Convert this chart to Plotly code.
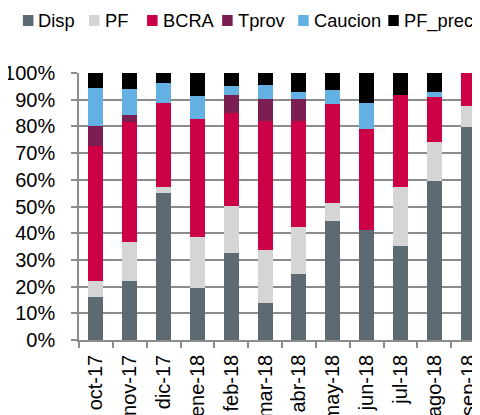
import plotly.graph_objects as go

categories = ["oct-17", "nov-17", "dic-17", "ene-18", "feb-18", "mar-18",
              "abr-18", "may-18", "jun-18", "jul-18", "ago-18", "sep-18"]

disp    = [16.1, 22.1, 55.0, 19.6, 32.7, 13.8, 24.8, 44.7, 41.2, 35.3, 59.6, 79.8]
pf      = [6.0, 14.6, 2.2, 19.0, 17.4, 20.0, 17.7, 6.6, 0.0, 22.0, 14.4, 7.8]
bcra    = [50.6, 44.9, 31.5, 44.3, 34.8, 48.2, 39.4, 37.2, 38.0, 34.6, 17.1, 12.4]
tprov   = [7.5, 2.8, 0.0, 0.0, 6.7, 8.1, 8.3, 0.0, 0.0, 0.0, 0.0, 0.0]
caucion = [14.1, 9.6, 7.5, 8.6, 3.6, 5.4, 2.6, 5.1, 9.7, 0.0, 1.9, 0.0]
pf_prec = [5.7, 6.0, 3.8, 8.5, 4.8, 4.5, 7.2, 6.4, 11.1, 8.1, 7.0, 0.0]

series_names = ["Disp", "PF", "BCRA", "Tprov", "Caucion", "PF_prec"]
series_vals = [disp, pf, bcra, tprov, caucion, pf_prec]
colors = ["#5d6a72", "#d4d5d4", "#cc0046", "#7b1f52", "#63b1e3", "#000000"]

FONT = "Liberation Sans, Arial, sans-serif"
W, H = 480, 415
OFF = 8  # page body margin offset of the figure
# plot area in page pixels: left 79, top 73, bottom 340, right ~484.6
ML = 79 - OFF
MT = 73 - OFF
MB = H - (340 - OFF)
MR = W - (484.6 - OFF)

fig = go.Figure()
for name, vals, col in zip(series_names, series_vals, colors):
    fig.add_trace(go.Bar(
        x=categories, y=[v / 100 for v in vals], name=name,
        marker=dict(color=col, line=dict(width=0)),
        showlegend=False,
    ))

pw = W - ML - MR
ph = H - MT - MB
def px2x(px):  # page px -> paper x
    return (px - OFF - ML) / pw
def py2y(py):  # page px -> paper y
    return (H - MB - (py - OFF)) / ph

legend_x = [23, 89, 147, 222, 298, 388]
shapes = []
annotations = []
for name, col, lx in zip(series_names, colors, legend_x):
    shapes.append(dict(type="rect", xref="paper", yref="paper",
                       x0=px2x(lx), x1=px2x(lx + 10.5),
                       y0=py2y(26), y1=py2y(15),
                       fillcolor=col, line=dict(width=0)))
    annotations.append(dict(text=name, xref="paper", yref="paper",
                            x=px2x(lx + 13.5), y=py2y(20.5),
                            xanchor="left", yanchor="middle", showarrow=False,
                            font=dict(family=FONT, size=18.3, color="#000000")))

fig.update_layout(
    width=W, height=H,
    margin=dict(l=ML, r=MR, t=MT, b=MB, pad=0, autoexpand=False),
    barmode="stack", bargap=0.555,
    plot_bgcolor="white", paper_bgcolor="white",
    font=dict(family=FONT, size=20, color="#000000"),
    shapes=shapes, annotations=annotations,
    xaxis=dict(
        type="category", range=[-0.5, 11.5], automargin=False,
        tickangle=-90, tickson="boundaries",
        ticks="outside", ticklen=6, tickcolor="#8c8c8c", tickwidth=1.5,
        showline=True, linecolor="#8c8c8c", linewidth=1.5,
        showgrid=False, tickfont=dict(size=20, family=FONT),
        ticklabelstandoff=5,
    ),
    yaxis=dict(
        range=[0, 1], tickvals=[i / 10 for i in range(11)], tickformat=".0%",
        automargin=False,
        ticks="outside", ticklen=6, tickcolor="#8c8c8c", tickwidth=1.5,
        showline=True, linecolor="#8c8c8c", linewidth=1.5,
        showgrid=True, gridcolor="#8c8c8c", gridwidth=1.5,
        zeroline=False, tickfont=dict(size=20, family=FONT),
        ticklabelstandoff=12,
    ),
)

fig.write_html("out.html")
